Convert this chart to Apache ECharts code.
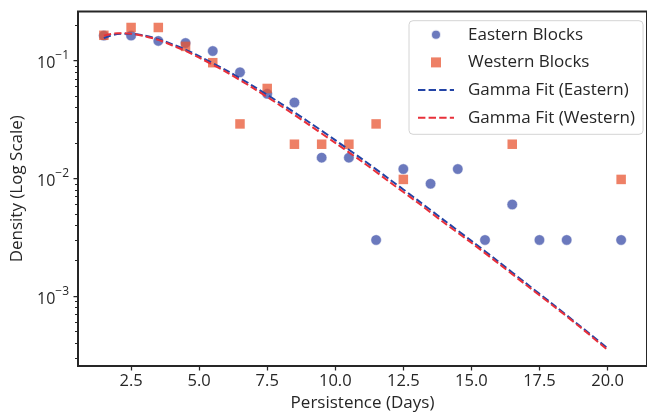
<!DOCTYPE html>
<html>
<head>
<meta charset="utf-8">
<script src="https://cdn.jsdelivr.net/npm/echarts@6.0.0/dist/echarts.min.js"></script>
<style>
html,body{margin:0;padding:0;background:#fff;}
#chart{width:647px;height:417px;}
</style>
</head>
<body>
<div id="chart"></div>
<script>
// ---- data ----
const easternX = [1.5, 2.5, 3.5, 4.5, 5.5, 6.5, 7.5, 8.5, 9.5, 10.5, 11.5, 12.5, 13.5, 14.5, 15.5, 16.5, 17.5, 18.5, 20.5];
const easternY = [0.163, 0.163, 0.147, 0.141, 0.1205, 0.0795, 0.0522, 0.0441, 0.015, 0.015, 0.003, 0.012, 0.009, 0.012, 0.003, 0.006, 0.003, 0.003, 0.003];

const westernX = [1.5, 2.5, 3.5, 4.5, 5.5, 6.5, 7.5, 8.5, 9.5, 10.5, 11.5, 12.5, 16.5, 20.5];
const westernY = [0.164, 0.191, 0.191, 0.132, 0.096, 0.029, 0.058, 0.0195, 0.0195, 0.0195, 0.029, 0.0098, 0.0195, 0.0098];

const fitX = [1.5, 2, 2.5, 3, 3.5, 4, 4.5, 5, 6, 7, 8, 9, 10, 11, 12, 13, 14, 15, 16, 17, 18, 19, 20];
const fitEasternY = [0.155, 0.168, 0.169, 0.163, 0.152, 0.138, 0.124, 0.109, 0.0826, 0.0604, 0.0432, 0.0304, 0.0211, 0.0145, 0.0098, 0.0066, 0.0044, 0.00295, 0.00196, 0.00129, 0.00085, 0.000556, 0.000362];
const fitWesternY = [0.163, 0.171, 0.169, 0.161, 0.150, 0.135, 0.121, 0.106, 0.0799, 0.0581, 0.0413, 0.0289, 0.0200, 0.0138, 0.0093, 0.0063, 0.0042, 0.00284, 0.00189, 0.00125, 0.00083, 0.000545, 0.00035];

const xTicks = [2.5, 5, 7.5, 10, 12.5, 15, 17.5, 20];
const yMajorTicks = [0.001, 0.01, 0.1];
const yMinorTicks = [0.0003, 0.0004, 0.0005, 0.0006, 0.0007, 0.0008, 0.0009,
  0.002, 0.003, 0.004, 0.005, 0.006, 0.007, 0.008, 0.009,
  0.02, 0.03, 0.04, 0.05, 0.06, 0.07, 0.08, 0.09, 0.2];

const seriesNames = ['Eastern Blocks', 'Western Blocks', 'Gamma Fit (Eastern)', 'Gamma Fit (Western)'];

// ---- build ----
const zip = (xs, ys) => xs.map((x, i) => [x, ys[i]]);
const FONT = 'Open Sans';
const INK = '#262626';
const X_MIN = 0.55, X_MAX = 21.45;
const Y_MIN = Math.pow(10, -3.5928), Y_MAX = Math.pow(10, -0.5832);
const EAST_COLOR = 'rgba(70,88,173,0.8)';
const WEST_COLOR = 'rgba(232,86,51,0.75)';
const EAST_LINE = '#2344a6';
const WEST_LINE = '#e8303a';

const chart = echarts.init(document.getElementById('chart'), null, {renderer: 'canvas'});

const yLabelFmt = v => {
  const e = Math.round(Math.log10(v));
  return '{b|10}{s|' + (e < 0 ? '\u2212' : '') + Math.abs(e) + '}';
};

const option = {
  animation: false,
  backgroundColor: '#fff',
  textStyle: {fontFamily: FONT, color: INK},
  grid: {
    left: 78, top: 11.5, width: 574.5, height: 356.4,
    show: true, borderColor: INK, borderWidth: 2, backgroundColor: 'transparent'
  },
  legend: {
    data: [
      {name: seriesNames[0], icon: 'circle'},
      {name: seriesNames[1], icon: 'path://M0,0H10V10H0Z'},
      {name: seriesNames[2], itemStyle: {opacity: 0}},
      {name: seriesNames[3], itemStyle: {opacity: 0}}
    ],
    orient: 'vertical',
    left: 409, top: 20.7,
    padding: [5.5, 8, 8, 8],
    itemWidth: 36, itemHeight: 10, itemGap: 10.7,
    backgroundColor: 'rgba(255,255,255,0.85)',
    borderColor: '#d4d4d4', borderWidth: 1, borderRadius: 4,
    textStyle: {fontFamily: FONT, fontSize: 17, color: INK, lineHeight: 16, padding: [0, 0, 0, 9]}
  },
  xAxis: {
    type: 'value', min: X_MIN, max: X_MAX,
    name: 'Persistence (Days)', nameLocation: 'middle', nameGap: 29,
    nameTextStyle: {fontFamily: FONT, fontSize: 17, color: INK},
    axisLine: {show: false},
    splitLine: {show: false},
    axisTick: {show: true, customValues: xTicks, length: 4.5, inside: false, lineStyle: {color: INK, width: 1.25}},
    axisLabel: {customValues: xTicks, formatter: v => Number(v).toFixed(1), margin: 7, fontFamily: FONT, fontSize: 16.5, color: INK}
  },
  yAxis: [
    {
      type: 'log', logBase: 10, min: Y_MIN, max: Y_MAX,
      name: 'Density (Log Scale)', nameLocation: 'middle', nameGap: 49,
      nameTextStyle: {fontFamily: FONT, fontSize: 17, color: INK},
      axisLine: {show: false},
      splitLine: {show: false},
      axisTick: {show: true, customValues: yMajorTicks, length: 4.5, lineStyle: {color: INK, width: 1.25}},
      axisLabel: {
        customValues: yMajorTicks, formatter: yLabelFmt, margin: 9, color: INK,
        rich: {
          b: {fontFamily: FONT, fontSize: 16, color: INK, lineHeight: 22, verticalAlign: 'bottom'},
          s: {fontFamily: FONT, fontSize: 12, color: INK, lineHeight: 11, verticalAlign: 'top'}
        }
      }
    },
    {
      type: 'log', logBase: 10, min: Y_MIN, max: Y_MAX, position: 'left',
      axisLine: {show: false}, splitLine: {show: false},
      axisTick: {show: true, customValues: yMinorTicks, length: 3, lineStyle: {color: INK, width: 1}},
      axisLabel: {show: false}
    }
  ],
  series: [
    {
      name: seriesNames[0], type: 'scatter', symbol: 'circle', symbolSize: 10.5,
      data: zip(easternX, easternY),
      itemStyle: {color: EAST_COLOR, opacity: 1, borderColor: 'rgba(255,255,255,0.8)', borderWidth: 0.6},
      z: 2
    },
    {
      name: seriesNames[1], type: 'scatter', symbol: 'rect', symbolSize: 9.5,
      data: zip(westernX, westernY),
      itemStyle: {color: WEST_COLOR, opacity: 1},
      z: 3
    },
    {
      name: seriesNames[2], type: 'line', showSymbol: false, symbol: 'none', smooth: 0.3,
      data: zip(fitX, fitEasternY),
      lineStyle: {color: EAST_LINE, width: 2, type: [7.4, 3.2]},
      itemStyle: {color: EAST_LINE},
      z: 4
    },
    {
      name: seriesNames[3], type: 'line', showSymbol: false, symbol: 'none', smooth: 0.3,
      data: zip(fitX, fitWesternY),
      lineStyle: {color: WEST_LINE, width: 2, type: [7.4, 3.2]},
      itemStyle: {color: WEST_LINE},
      z: 5
    }
  ]
};
chart.setOption(option);
</script>
</body>
</html>
